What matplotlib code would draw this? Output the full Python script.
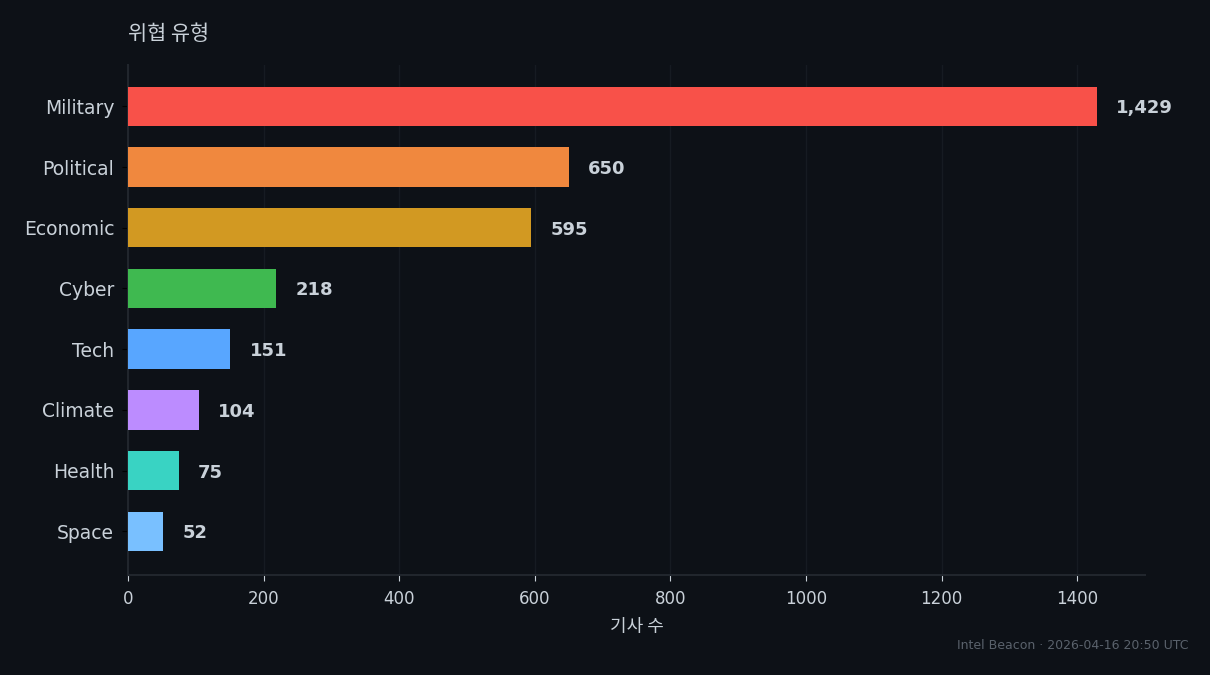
import matplotlib
matplotlib.use("Agg")
import matplotlib.pyplot as plt

plt.rcParams["font.family"] = ["DejaVu Sans", "Noto Sans CJK KR"]

BG = "#0d1117"
TEXT = "#c9d1d9"
GRID = "#161b22"

categories = ["Military", "Political", "Economic", "Cyber", "Tech", "Climate", "Health", "Space"]
counts = [1429, 650, 595, 218, 151, 104, 75, 52]
bar_colors = ["#f85149", "#f0883e", "#d29922", "#3fb950", "#58a6ff", "#bc8cff", "#39d3c3", "#79c0ff"]

fig = plt.figure(figsize=(12.1, 6.75), dpi=100, facecolor=BG)
ax = fig.add_axes([0.1058, 0.1481, 0.8405, 0.7556], facecolor=BG)

ypos = list(range(len(categories)))
ax.barh(ypos, counts, height=0.65, color=bar_colors, zorder=3)

for y, v in zip(ypos, counts):
    ax.text(v + max(counts) * 0.02, y, f"{v:,}", va="center_baseline", ha="left",
            fontsize=13, fontweight="bold", color=TEXT, zorder=4)

ax.set_yticks(ypos)
ax.set_yticklabels(categories)
ax.set_ylim(7.72, -0.68)
ax.set_xlim(0, 1500)

ax.tick_params(axis="y", colors="#000000", labelcolor=TEXT, labelsize=13.5, length=4, pad=6)
ax.tick_params(axis="x", colors="#c9d1d9", labelcolor=TEXT, labelsize=12, length=4, pad=7)

ax.grid(axis="x", color=GRID, linewidth=1, zorder=0)
ax.set_axisbelow(True)
for side in ("top", "right"):
    ax.spines[side].set_visible(False)
for side in ("left", "bottom"):
    ax.spines[side].set_color("#21262d")
    ax.spines[side].set_linewidth(1.5)

ax.set_title("위협 유형", loc="left", color=TEXT, fontsize=15, pad=18,
             family=["Noto Sans CJK KR", "DejaVu Sans"])
ax.set_xlabel("기사 수", color=TEXT, fontsize=13, labelpad=7,
              family=["Noto Sans CJK KR", "DejaVu Sans"])

fig.text(0.982, 0.043, "Intel Beacon · 2026-04-16 20:50 UTC", ha="right", va="center",
         fontsize=9, color="#5a626c")

fig.savefig("out.png", dpi=100, facecolor=BG)
